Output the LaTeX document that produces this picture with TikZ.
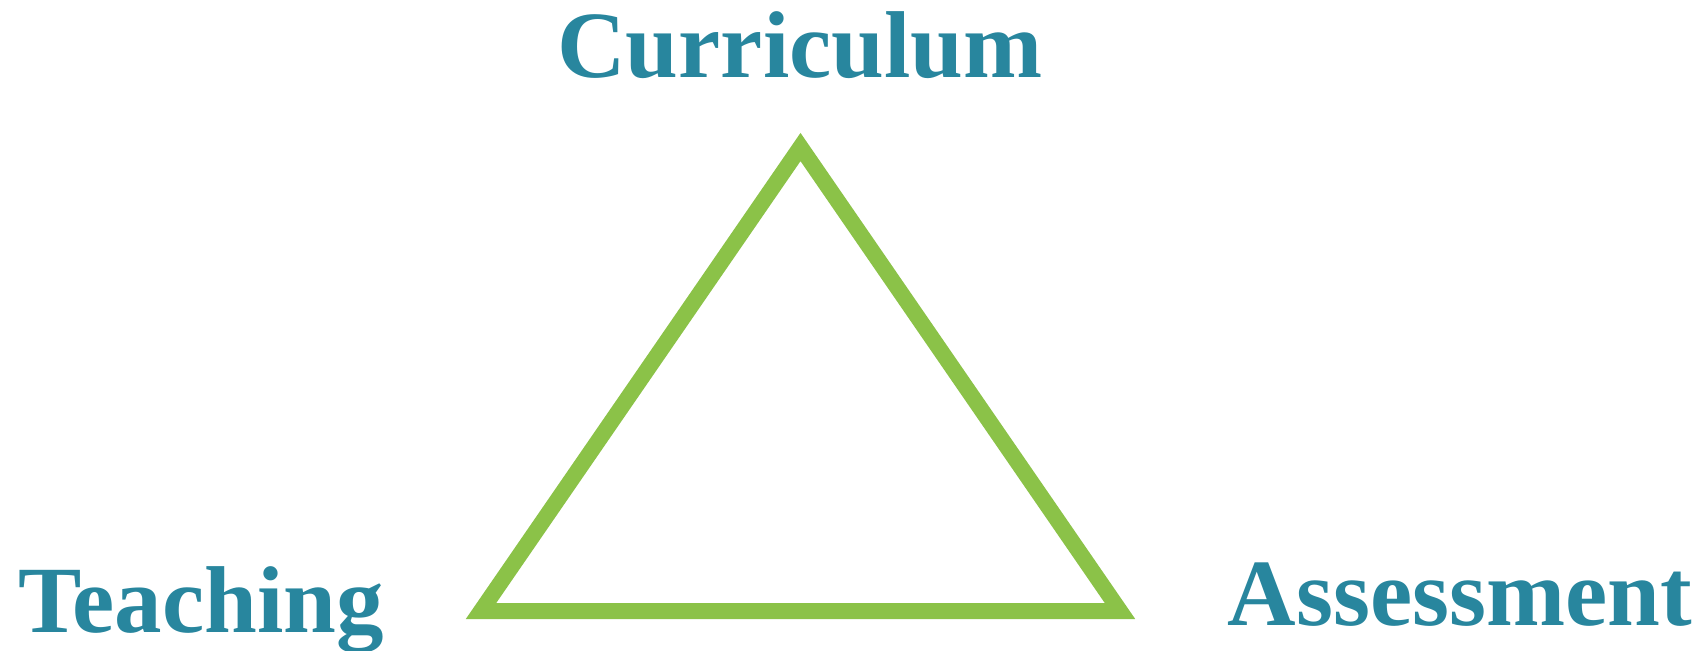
\documentclass[tikz,border=0pt]{standalone}
\usepackage{fontspec}
\setmainfont{Liberation Serif}
\definecolor{termblue}{RGB}{40,134,158}
\definecolor{trigreen}{RGB}{139,194,72}
\begin{document}
\begin{tikzpicture}[
    x=0.01cm, y=-0.01cm,
    term/.style={anchor=base, inner sep=0pt, text=termblue, font=\fontsize{27pt}{30pt}\selectfont\bfseries},
    side/.style={draw=trigreen, line width=0.16cm, miter limit=10},
]
\useasboundingbox (0,0) rectangle (1706,650);

% Corners
\coordinate (apex) at (800.5,147);
\coordinate (left) at (481,611);
\coordinate (right) at (1120,611);

% Triangle
\draw[side] (left) -- (apex) -- (right) -- cycle;

% Labels
\node[term] (curriculum) at (800,77) {Curriculum};
\node[term] (teaching) at (201,632) {Teaching};
\node[term] (assessment) at (1460,625) {Assessment};
\end{tikzpicture}
\end{document}
